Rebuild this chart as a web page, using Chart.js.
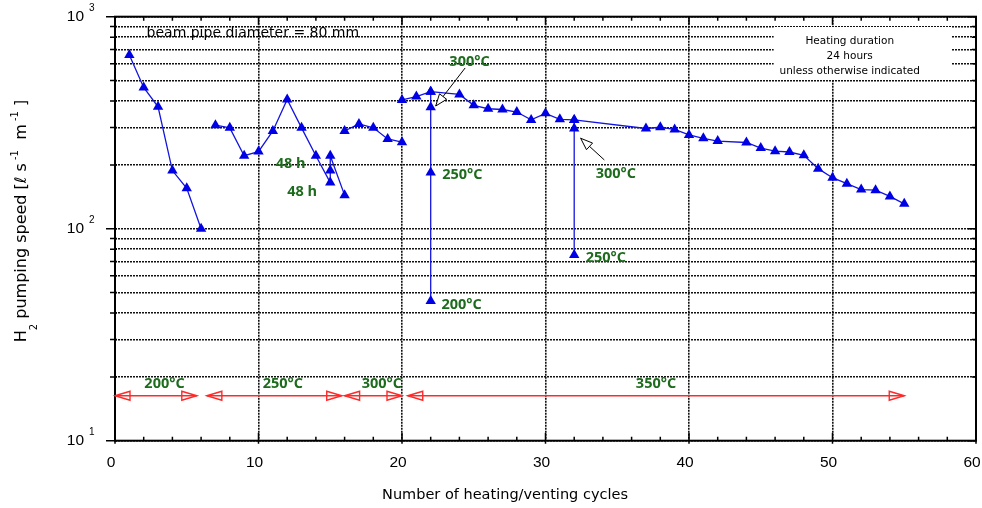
<!DOCTYPE html>
<html>
<head>
<meta charset="utf-8">
<script src="https://cdn.jsdelivr.net/npm/chart.js@4.4.0/dist/chart.umd.min.js"></script>
<style>
    html, body { margin: 0; padding: 0; background: #fff; }
</style>
</head>
<body>
<canvas id="chartPumping" width="982" height="508"></canvas>
<script>
// H2 pumping speed vs heating/venting cycle
var cyc200 = [1, 2, 3, 4, 5, 6];
var speed200 = [659, 464, 376, 188, 155, 100];
var cyc250 = [7, 8, 9, 10, 11, 12, 13, 14, 15, 15, 15, 16];
var speed250 = [308, 299, 221, 231, 289, 407, 299, 221, 165, 188, 221, 144];
var cyc300 = [16, 17, 18, 19, 20];
var speed300 = [289, 312, 299, 265, 256];
var cyc350 = [20, 21, 22, 24, 25, 26, 27, 28, 29, 30, 31, 32, 37, 38, 39, 40, 41, 42, 44, 45, 46, 47, 48, 49, 50, 51, 52, 53, 54, 55];
var speed350 = [405, 420, 443, 430, 382, 368, 365, 355, 326, 350, 328, 326, 297, 301, 294, 277, 267, 259, 255, 240, 232, 230, 222, 192, 174, 163, 153, 152, 142, 131];
// the two cycles where a lower temperature bake was tried
var cycDrop22 = [22, 22, 22, 22];
var speedDrop22 = [443, 374, 184, 45.6];
var cycDrop32 = [32, 32, 32];
var speedDrop32 = [326, 297, 75.2];

// bake temperature ranges (red arrows along the bottom)
var rangeLabels = ['200°C', '250°C', '300°C', '350°C'];
var rangeFrom = [0, 6.4, 16, 20.4];
var rangeTo = [5.7, 15.8, 20, 55];
var rangeLevel = 16.3;
var rangeLabelLevel = 18.6;

// green notes on the plot
var noteText = ['300°C', '250°C', '200°C', '300°C', '250°C', '48 h', '48 h'];
var noteX = [23.3, 22.8, 22.75, 33.5, 32.8, 11.2, 12.0];
var noteY = [611, 179, 43.6, 181, 72.7, 202, 149];

// black pointer arrows [tailX, tailY, tipX, tipY]
var pointers = [[24.4, 573, 22.35, 379], [34.1, 211, 32.45, 267]];

var xTicks = [0, 10, 20, 30, 40, 50, 60];
var yDecades = [10, 100, 1000];
var yExponents = ['1', '2', '3'];

function pts(xs, ys) {
    return xs.map(function (x, i) { return { x: x, y: ys[i] }; });
}

function series(xs, ys) {
    return {
        data: pts(xs, ys),
        borderColor: '#1414e0',
        borderWidth: 1.3,
        pointStyle: 'triangle',
        pointRadius: 6,
        pointBackgroundColor: '#0000e6',
        pointBorderColor: '#0000e6',
        pointBorderWidth: 0,
        tension: 0,
        fill: false
    };
}

var green = '#1d6b1d';

var decor = {
    id: 'decor',
    beforeDatasetsDraw: function (chart) {
        var c = chart.ctx, sx = chart.scales.x, sy = chart.scales.y;
        // white box for the heating note, blanks the grid
        var l = sx.getPixelForValue(45.9), r = sx.getPixelForValue(58.3);
        var t = sy.getPixelForValue(894), b = sy.getPixelForValue(503);
        c.save();
        c.fillStyle = '#fff';
        c.fillRect(l, t, r - l, b - t);
        c.restore();
    },
    afterDraw: function (chart) {
        var c = chart.ctx, a = chart.chartArea;
        var sx = chart.scales.x, sy = chart.scales.y;
        c.save();

        // frame
        c.strokeStyle = '#000';
        c.lineWidth = 2;
        c.strokeRect(a.left, a.top, a.right - a.left, a.bottom - a.top);

        // x ticks, bottom and top
        c.lineWidth = 1.5;
        c.beginPath();
        for (var v = 0; v <= 60; v += 2) {
            var px = sx.getPixelForValue(v);
            var major = v % 10 === 0;
            var inside = major ? 8 : 4;
            c.moveTo(px, a.bottom + (major ? 3 : 0));
            c.lineTo(px, a.bottom - inside);
            c.moveTo(px, a.top);
            c.lineTo(px, a.top + inside);
        }
        // y ticks, left outside and right inside
        yDecades.forEach(function (d, k) {
            for (var m = 1; m <= 9; m++) {
                if (k === yDecades.length - 1 && m > 1) break;
                var py = sy.getPixelForValue(d * m);
                var len = m === 1 ? 9 : 5;
                c.moveTo(a.left - len, py);
                c.lineTo(a.left + 2, py);
                c.moveTo(a.right, py);
                c.lineTo(a.right - len + 1, py);
            }
        });
        c.stroke();

        // x tick labels
        c.fillStyle = '#000';
        c.textBaseline = 'middle';
        c.textAlign = 'center';
        c.font = "15.5px 'Liberation Sans'";
        xTicks.forEach(function (t) {
            c.fillText(String(t), sx.getPixelForValue(t) - 4, a.bottom + 22);
        });

        // y tick labels 10^n
        yDecades.forEach(function (d, k) {
            var py = sy.getPixelForValue(d);
            c.font = "15.5px 'Liberation Sans'";
            c.textAlign = 'right';
            c.fillText('10', 84, py);
            c.font = "10px 'Liberation Sans'";
            c.textAlign = 'left';
            c.fillText(yExponents[k], 89, py - 8);
        });

        // axis titles
        c.font = "14.5px 'DejaVu Sans'";
        c.textAlign = 'center';
        c.fillText('Number of heating/venting cycles', a.left + 390, a.bottom + 55);

        var parts = [
            ['H', 16, 0], ['2', 10, 12], [' pumping speed [', 16, 0], ['\u2113', 16, 0],
            [' s', 16, 0], [' -1', 10, -7], ['  m', 16, 0], [' -1', 10, -7], [' ]', 16, 0]
        ];
        var total = 0;
        parts.forEach(function (p) {
            c.font = p[1] + "px 'DejaVu Sans'";
            p.push(c.measureText(p[0]).width);
            total += p[3];
        });
        c.translate(22, 221);
        c.rotate(-Math.PI / 2);
        c.textAlign = 'left';
        var pos = -total / 2;
        parts.forEach(function (p) {
            c.font = p[1] + "px 'DejaVu Sans'";
            c.fillText(p[0], pos, p[2]);
            pos += p[3];
        });
        c.setTransform(1, 0, 0, 1, 0, 0);

        // top-left caption
        c.font = "14px 'DejaVu Sans'";
        c.textAlign = 'left';
        c.fillText('beam pipe diameter = 80 mm', sx.getPixelForValue(2.2), sy.getPixelForValue(838));

        // heating note
        c.font = "10.5px 'DejaVu Sans'";
        c.textAlign = 'center';
        var nx = sx.getPixelForValue(51.2);
        c.fillText('Heating duration', nx, sy.getPixelForValue(762));
        c.fillText('24 hours', nx, sy.getPixelForValue(648));
        c.fillText('unless otherwise indicated', nx, sy.getPixelForValue(551));

        // red temperature range arrows
        var ay = sy.getPixelForValue(rangeLevel);
        c.strokeStyle = '#ff2a2a';
        c.lineWidth = 1.4;
        rangeFrom.forEach(function (f, i) {
            var x1 = sx.getPixelForValue(f), x2 = sx.getPixelForValue(rangeTo[i]);
            c.beginPath();
            c.moveTo(x1, ay);
            c.lineTo(x2, ay);
            c.stroke();
            [[x1, 1], [x2, -1]].forEach(function (h) {
                c.beginPath();
                c.moveTo(h[0], ay);
                c.lineTo(h[0] + h[1] * 15, ay - 4.5);
                c.lineTo(h[0] + h[1] * 15, ay + 4.5);
                c.closePath();
                c.stroke();
            });
        });
        c.fillStyle = green;
        c.font = "bold 14.5px 'Open Sans'";
        c.textAlign = 'center';
        rangeLabels.forEach(function (t, i) {
            var mid = i === 3 ? 37.7 : (rangeFrom[i] + rangeTo[i]) / 2 + 0.6;
            c.fillText(t, sx.getPixelForValue(mid), sy.getPixelForValue(rangeLabelLevel));
        });

        // green notes
        c.textAlign = 'left';
        noteText.forEach(function (t, i) {
            c.fillText(t, sx.getPixelForValue(noteX[i]), sy.getPixelForValue(noteY[i]));
        });

        // black pointer arrows
        c.strokeStyle = '#000';
        c.lineWidth = 1;
        pointers.forEach(function (p) {
            var x0 = sx.getPixelForValue(p[0]), y0 = sy.getPixelForValue(p[1]);
            var x1 = sx.getPixelForValue(p[2]), y1 = sy.getPixelForValue(p[3]);
            var ang = Math.atan2(y1 - y0, x1 - x0);
            c.beginPath();
            c.moveTo(x0, y0);
            c.lineTo(x1, y1);
            c.stroke();
            var hl = 12, hw = 4.5;
            var bx = x1 - hl * Math.cos(ang), by = y1 - hl * Math.sin(ang);
            c.beginPath();
            c.moveTo(x1, y1);
            c.lineTo(bx - hw * Math.sin(ang), by + hw * Math.cos(ang));
            c.lineTo(bx + hw * Math.sin(ang), by - hw * Math.cos(ang));
            c.closePath();
            c.fillStyle = '#fff';
            c.fill();
            c.stroke();
        });

        c.restore();
    }
};

var ctx = document.getElementById('chartPumping');
new Chart(ctx, {
    type: 'line',
    data: {
        datasets: [
            series(cyc200, speed200),
            series(cyc250, speed250),
            series(cyc300, speed300),
            series(cyc350, speed350),
            series(cycDrop22, speedDrop22),
            series(cycDrop32, speedDrop32)
        ]
    },
    options: {
        responsive: false,
        animation: false,
        devicePixelRatio: 1,
        layout: { padding: { left: 115, right: 3.5, top: 16.7, bottom: 67.3 } },
        plugins: { legend: { display: false }, tooltip: { enabled: false } },
        scales: {
            x: {
                type: 'linear',
                min: 0,
                max: 60,
                afterBuildTicks: function (s) { s.ticks = xTicks.map(function (v) { return { value: v }; }); },
                ticks: { display: false },
                grid: { color: '#111', lineWidth: 1.6, drawTicks: false },
                border: { display: false, dash: [2, 1] }
            },
            y: {
                type: 'logarithmic',
                min: 10,
                max: 1000,
                afterBuildTicks: function (s) {
                    var t = [];
                    yDecades.forEach(function (d, k) {
                        for (var m = 1; m <= 9; m++) {
                            if (k === yDecades.length - 1 && m > 1) break;
                            t.push({ value: d * m, major: m === 1 });
                        }
                    });
                    s.ticks = t;
                },
                ticks: { display: false },
                grid: { color: '#111', lineWidth: 1.6, drawTicks: false },
                border: { display: false, dash: [2, 1] }
            }
        }
    },
    plugins: [decor]
});
</script>
</body>
</html>
